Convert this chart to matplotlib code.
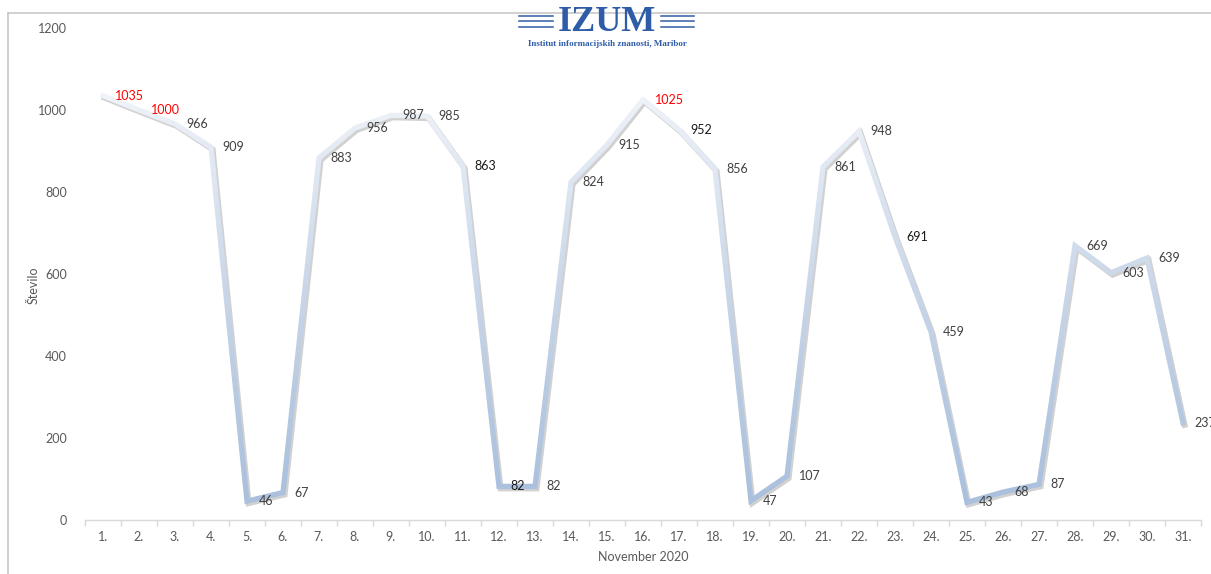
import matplotlib
matplotlib.use("Agg")
import matplotlib.pyplot as plt
import matplotlib.colors as mcolors
from matplotlib.patches import Rectangle
from matplotlib.lines import Line2D
import matplotlib.transforms as mtransforms
import numpy as np

days = [f"{i}." for i in range(1, 32)]
values = [1035, 1000, 966, 909, 46, 67, 883, 956, 987, 985, 863, 82, 82, 824, 915,
          1025, 952, 856, 47, 107, 861, 948, 691, 459, 43, 68, 87, 669, 603, 639, 237]
red_labels = {0, 1, 15}
dark_labels = {10, 11, 16, 22}
yticks = [0, 200, 400, 600, 800, 1000, 1200]
xlabel = "November 2020"
ylabel = "Število"

plt.rcParams['font.family'] = ['Lato', 'DejaVu Sans']

fig = plt.figure(figsize=(12.11, 5.74), dpi=100)
W, H = 1211, 574
ax = fig.add_axes([85 / W, 1 - 520 / H, (1201 - 85) / W, (520 - 28) / H])
x = np.arange(1, len(values) + 1)

ax.set_xlim(0.5, len(values) + 0.5)
ax.set_ylim(0, 1200)

# shadow
shadow_tr = ax.transData + mtransforms.ScaledTranslation(1.2 / 72, -1.5 / 72, fig.dpi_scale_trans)
ax.plot(x, values, color='#8c8c8c', alpha=0.4, lw=4.2, transform=shadow_tr,
        solid_joinstyle='miter', clip_on=False, zorder=2)

# gradient line via horizontal bands
c_bot = np.array(mcolors.to_rgb('#a9bfdc'))
c_top = np.array(mcolors.to_rgb('#f5f7fb'))
edges = np.linspace(0, 1100, 45)
for i in range(len(edges) - 1):
    y0, y1 = edges[i], edges[i + 1]
    t = ((0.5 * (y0 + y1)) / 1100) ** 1.3
    col = c_bot * (1 - t) + c_top * t
    lo = -200 if i == 0 else y0
    hi = 1400 if i == len(edges) - 2 else y1
    ln, = ax.plot(x, values, color=col, lw=3.8, solid_joinstyle='miter', zorder=3, clip_on=True)
    rect = Rectangle((-5, lo), 50, hi - lo, transform=ax.transData)
    ln.set_clip_path(rect)

# data labels
for i, (xi, v) in enumerate(zip(x, values)):
    if i in red_labels:
        c = '#ff0000'
    elif i in dark_labels:
        c = '#1a1a1a'
    else:
        c = '#404040'
    ax.annotate(str(v), (xi, v), xytext=(8.5, 0), textcoords='offset points',
                ha='left', va='center', fontsize=9, color=c, zorder=5,
                annotation_clip=False)

# axes styling
for s in ['top', 'right', 'left']:
    ax.spines[s].set_visible(False)
ax.spines['bottom'].set_color('#d9d9d9')
ax.spines['bottom'].set_linewidth(1.0)
ax.set_yticks(yticks)
ax.set_yticklabels([str(t) for t in yticks])
ax.tick_params(axis='y', length=0, pad=13, labelsize=9, labelcolor='#595959')
ax.set_xticks(x)
ax.set_xticklabels(days)
ax.tick_params(axis='x', which='major', length=0, pad=8, labelsize=9, labelcolor='#595959')
ax.set_xticks(np.arange(0.5, len(values) + 1.0, 1.0), minor=True)
ax.tick_params(axis='x', which='minor', length=4, color='#d9d9d9', width=1)
ax.set_xlabel(xlabel, fontsize=9, color='#595959', labelpad=6)
ax.set_ylabel(ylabel, fontsize=9, color='#595959', labelpad=14)
ax.yaxis.set_label_coords(-45 / (1201 - 85), (520 - 285) / (520 - 28))

# chart area frame (top and left)
fig.add_artist(Line2D([8 / W, 1.0], [1 - 13 / H, 1 - 13 / H], color='#c8c8c8', lw=1.2))
fig.add_artist(Line2D([8 / W, 8 / W], [0, 1 - 13 / H], color='#c8c8c8', lw=1.2))

# logo
blue = '#2f5ca6'
fig.text(607 / W, 1 - 22.5 / H, "IZUM", fontsize=26, fontweight='bold', color=blue,
         family='Liberation Serif', ha='center', va='center')
for yy in [15.5, 21, 26.5]:
    fig.add_artist(Line2D([519 / W, 553 / W], [1 - yy / H, 1 - yy / H], color=blue, lw=1.1))
    fig.add_artist(Line2D([661 / W, 694 / W], [1 - yy / H, 1 - yy / H], color=blue, lw=1.1))
fig.text(607 / W, 1 - 44 / H, "Institut informacijskih znanosti, Maribor", fontsize=6.5,
         fontweight='bold', color=blue, family='Liberation Serif', ha='center', va='center')

fig.savefig("out.png", dpi=100)
